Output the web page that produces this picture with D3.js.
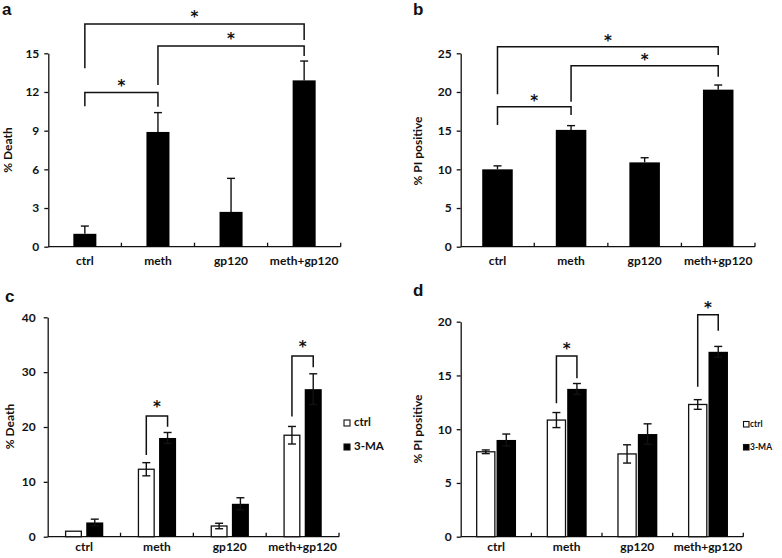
<!DOCTYPE html>
<html><head><meta charset="utf-8">
<script src="https://cdn.jsdelivr.net/npm/d3@7"></script>
<style>body{margin:0;background:#fff}</style>
</head><body>
<svg id="chart" width="782" height="558" xmlns="http://www.w3.org/2000/svg"></svg>
<script>
const categories = ["ctrl", "meth", "gp120", "meth+gp120"];
const seriesNames = ["ctrl", "3-MA"];

const aMean = [1.0, 8.9, 2.7, 12.9];
const aErr  = [0.6, 1.5, 2.6, 1.5];
const bMean = [10.0, 15.1, 10.9, 20.3];
const bErr  = [0.45, 0.55, 0.6, 0.6];

const cCtrl    = [1.0, 12.3, 1.95, 18.5];
const cCtrlErr = [0, 1.2, 0.5, 1.6];
const c3MA     = [2.6, 18.0, 6.0, 26.9];
const c3MAErr  = [0.6, 1.0, 1.1, 2.8];

const dCtrl    = [7.9, 10.85, 7.7, 12.3];
const dCtrlErr = [0.17, 0.7, 0.85, 0.45];
const d3MA     = [9.0, 13.75, 9.55, 17.2];
const d3MAErr  = [0.55, 0.5, 0.95, 0.5];

const aTicks = [0, 3, 6, 9, 12, 15];
const bTicks = [0, 5, 10, 15, 20, 25];
const cTicks = [0, 10, 20, 30, 40];
const dTicks = [0, 5, 10, 15, 20];

// significance brackets between categories: [from, to, level, from-leg end, to-leg end] (data units)
const aBrackets = [[0, 1, 11.95, 10.9, 10.85], [1, 3, 15.57, 12.55, 14.8], [0, 3, 17.28, 13.84, 16.04]];
const bBrackets = [[0, 1, 18.1, 15.73, 17.02], [1, 3, 23.4, 18.74, 21.97], [0, 3, 25.85, 19.7, 24.78]];
// brackets between ctrl and 3-MA within a category: [category, level, ctrl-leg end, 3-MA-leg end]
const cBrackets = [[1, 22.0, 14.9, 20.05], [3, 32.95, 21.9, 30.9]];
const dBrackets = [[1, 16.81, 12.41, 14.73], [3, 20.65, 13.95, 19.16]];

const svg = d3.select("#chart");
const FONT = "Lato, 'Open Sans', sans-serif";
const INK = "#111";
const FS = 12;

function drawPanel(o) {
  const g = svg.append("g");
  const x = d3.scaleBand().domain(categories).range([o.x0, o.x1]);
  const y = d3.scaleLinear().domain([0, o.ymax]).range([o.y0, o.y1]);
  const bw = x.bandwidth();

  // y axis
  const ya = g.append("g").attr("transform", `translate(${o.x0},0)`)
    .call(d3.axisLeft(y).tickValues(o.ticks).tickSize(4).tickSizeOuter(0).tickPadding(o.tickPad));
  ya.select(".domain").attr("stroke", INK).attr("stroke-width", 1.3);
  ya.selectAll(".tick line").attr("stroke", INK).attr("stroke-width", 1.3);
  ya.selectAll(".tick text").attr("font-family", FONT).attr("font-weight", "bold")
    .attr("font-size", FS).attr("fill", INK);

  // x axis line + boundary ticks
  g.append("line").attr("x1", o.x0).attr("x2", o.x1).attr("y1", y(0)).attr("y2", y(0))
    .attr("stroke", INK).attr("stroke-width", 1.3);
  g.selectAll("line.bt").data(categories).join("line").attr("class", "bt")
    .attr("x1", d => x(d) + bw).attr("x2", d => x(d) + bw)
    .attr("y1", y(0)).attr("y2", y(0) - 4)
    .attr("stroke", INK).attr("stroke-width", 1.3);
  g.selectAll("text.cat").data(categories).join("text").attr("class", "cat")
    .attr("x", d => x(d) + bw / 2).attr("y", y(0) + o.catOff)
    .attr("text-anchor", "middle").attr("font-family", FONT).attr("font-weight", "bold")
    .attr("font-size", FS).attr("fill", INK).text(d => d);

  // bars
  let centers;
  if (o.series.length === 1) {
    const s = o.series[0];
    const w = bw * o.barFrac;
    centers = [categories.map(c => x(c) + bw / 2)];
    g.selectAll("rect.bar").data(categories).join("rect").attr("class", "bar")
      .attr("x", (c) => x(c) + (bw - w) / 2).attr("width", w)
      .attr("y", (c, i) => y(s.mean[i])).attr("height", (c, i) => y(0) - y(s.mean[i]))
      .attr("fill", "#000");
  } else {
    const gw = bw * o.groupFrac;
    const inner = d3.scaleBand().domain(seriesNames).range([0, gw]).paddingInner(o.innerPad);
    const ib = inner.bandwidth();
    centers = o.series.map((s, si) => categories.map(c => x(c) + (bw - gw) / 2 + inner(seriesNames[si]) + ib / 2));
    o.series.forEach((s, si) => {
      g.selectAll("rect.s" + si).data(categories).join("rect").attr("class", "s" + si)
        .attr("x", c => x(c) + (bw - gw) / 2 + inner(seriesNames[si]) + (si === 0 ? 0.65 : 0))
        .attr("width", ib - (si === 0 ? 1.3 : 0))
        .attr("y", (c, i) => y(s.mean[i])).attr("height", (c, i) => y(0) - y(s.mean[i]))
        .attr("fill", s.fill).attr("stroke", si === 0 ? INK : "none").attr("stroke-width", 1.3);
    });
  }

  // error bars
  o.series.forEach((s, si) => {
    const cx = centers[si];
    const eg = g.append("g").attr("stroke", INK).attr("stroke-width", 1.4);
    s.mean.forEach((m, i) => {
      const e = s.err[i];
      if (!e) return;
      const lo = o.upOnly ? m : m - e;
      eg.append("line").attr("x1", cx[i]).attr("x2", cx[i]).attr("y1", y(lo)).attr("y2", y(m + e));
      eg.append("line").attr("x1", cx[i] - 4).attr("x2", cx[i] + 4).attr("y1", y(m + e)).attr("y2", y(m + e));
      if (!o.upOnly) eg.append("line").attr("x1", cx[i] - 4).attr("x2", cx[i] + 4).attr("y1", y(m - e)).attr("y2", y(m - e));
    });
  });

  // brackets
  const bg = g.append("g");
  o.brackets.forEach(b => {
    let xl, xr, lv, le, re;
    if (o.series.length === 1) { xl = centers[0][b[0]]; xr = centers[0][b[1]]; lv = b[2]; le = b[3]; re = b[4]; }
    else { xl = centers[0][b[0]]; xr = centers[1][b[0]]; lv = b[1]; le = b[2]; re = b[3]; }
    bg.append("path").attr("d", `M${xl},${y(le)}V${y(lv)}H${xr}V${y(re)}`)
      .attr("fill", "none").attr("stroke", INK).attr("stroke-width", 1.5);
    bg.append("text").attr("x", (xl + xr) / 2).attr("y", y(lv) - o.starOff)
      .attr("text-anchor", "middle").attr("font-family", "'DejaVu Sans', sans-serif").attr("font-weight", "bold")
      .attr("font-size", 15).attr("fill", INK).text("*");
  });

  // y label
  g.append("text").attr("transform", `translate(${o.ylx},${o.yly}) rotate(-90)`)
    .attr("text-anchor", "middle").attr("dominant-baseline", "central")
    .attr("font-family", FONT).attr("font-weight", "bold").attr("font-size", FS).attr("fill", INK)
    .text(o.ylabel);

  // panel letter
  g.append("text").attr("x", o.lx).attr("y", o.ly).attr("font-family", "'Liberation Sans', Arial, sans-serif")
    .attr("font-weight", "bold").attr("font-size", 17).attr("fill", INK).text(o.letter);

  // legend
  if (o.legend) {
    const L = o.legend;
    o.series.forEach((s, si) => {
      const yy = L.y + si * L.dy;
      g.append("rect").attr("x", L.x).attr("y", yy - L.sq).attr("width", L.sq).attr("height", L.sq)
        .attr("fill", s.fill).attr("stroke", INK).attr("stroke-width", 1.1);
      g.append("text").attr("x", L.x + L.sq + L.gap).attr("y", yy).attr("font-family", FONT)
        .attr("font-weight", "bold").attr("font-size", L.fs).attr("fill", INK).text(seriesNames[si]);
    });
  }
}

drawPanel({
  x0: 48.3, x1: 340.7, y0: 246.7, y1: 53.3, ymax: 15, ticks: aTicks, tickPad: 5,
  series: [{ mean: aMean, err: aErr, fill: "#000" }], barFrac: 0.315, upOnly: true,
  brackets: aBrackets, starOff: 1.5, catOff: 18,
  ylabel: "% Death", ylx: 7.5, yly: 150, letter: "a", lx: 2, ly: 15
});
drawPanel({
  x0: 460.7, x1: 755, y0: 246.7, y1: 53.3, ymax: 25, ticks: bTicks, tickPad: 5,
  series: [{ mean: bMean, err: bErr, fill: "#000" }], barFrac: 0.415, upOnly: true,
  brackets: bBrackets, starOff: 1, catOff: 18,
  ylabel: "% PI positive", ylx: 417.7, yly: 151, letter: "b", lx: 413, ly: 15
});
drawPanel({
  x0: 47.7, x1: 339, y0: 536.7, y1: 317.3, ymax: 40, ticks: cTicks, tickPad: 8,
  series: [{ mean: cCtrl, err: cCtrlErr, fill: "#fff" }, { mean: c3MA, err: c3MAErr, fill: "#000" }],
  groupFrac: 0.526, innerPad: 0.2, upOnly: false,
  brackets: cBrackets, starOff: 4, catOff: 14.5,
  ylabel: "% Death", ylx: 9, yly: 426.5, letter: "c", lx: 5, ly: 302,
  legend: { x: 344, y: 426, dy: 24, sq: 6, gap: 4, fs: 11.5 }
});
drawPanel({
  x0: 460.7, x1: 743.3, y0: 536.7, y1: 321.7, ymax: 20, ticks: dTicks, tickPad: 5,
  series: [{ mean: dCtrl, err: dCtrlErr, fill: "#fff" }, { mean: d3MA, err: d3MAErr, fill: "#000" }],
  groupFrac: 0.566, innerPad: 0.05, upOnly: false,
  brackets: dBrackets, starOff: 2, catOff: 14.5,
  ylabel: "% PI positive", ylx: 417.7, yly: 429, letter: "d", lx: 413, ly: 296,
  legend: { x: 743.5, y: 427, dy: 23, sq: 5.5, gap: 1, fs: 8.5 }
});
</script>
</body></html>
